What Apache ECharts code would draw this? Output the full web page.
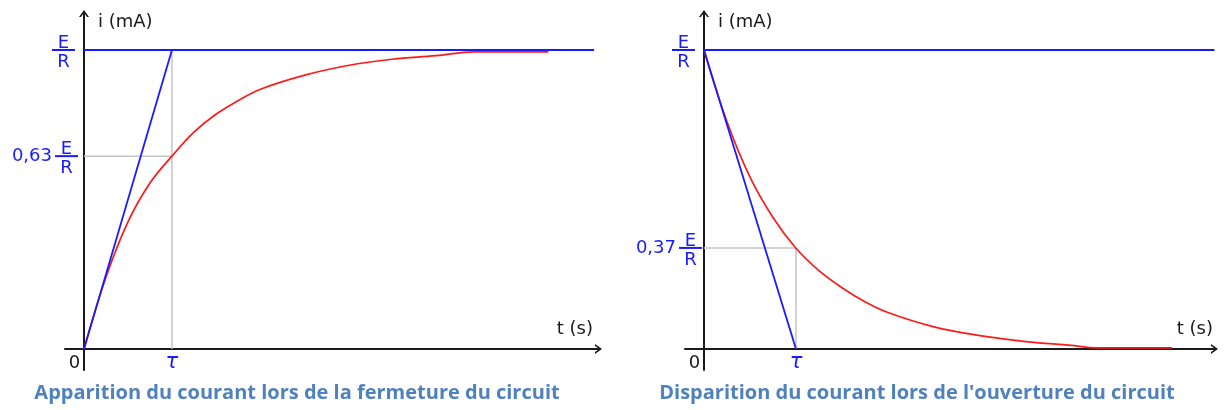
<!DOCTYPE html>
<html>
<head>
<meta charset="utf-8">
<script src="https://cdn.jsdelivr.net/npm/echarts@6/dist/echarts.min.js"></script>
<style>
  html, body { margin: 0; padding: 0; background: #fff; }
  #chart { width: 1224px; height: 410px; }
</style>
</head>
<body>
<div id="chart"></div>
<script>
// time in units of tau, current in units of E/R
const riseT = [0, 0.25, 0.5, 0.75, 1, 1.25, 1.5, 1.75, 2, 2.5, 3, 3.5, 4, 4.44, 5.28]
const riseI = [0, 0.24, 0.425, 0.555, 0.645, 0.725, 0.785, 0.83, 0.868, 0.915, 0.948, 0.969, 0.981, 0.994, 0.994]
const fallT = [0, 0.25, 0.5, 0.75, 1, 1.25, 1.5, 1.75, 2, 2.5, 3, 3.5, 4, 4.27, 5.09]
const fallI = [1, 0.76, 0.575, 0.44, 0.337, 0.262, 0.205, 0.158, 0.122, 0.074, 0.045, 0.025, 0.012, 0.004, 0.004]

// tangents at the origin of each curve
const riseTangentT = [0, 1]
const riseTangentI = [0, 1]
const fallTangentT = [0, 1]
const fallTangentI = [1, 0]

// E/R asymptote
const riseAsymT = [0, 5.8]
const fallAsymT = [0, 5.55]
const asymI = [1, 1]

// level reached at t = tau, and its label
const riseTauLevel = 0.645
const fallTauLevel = 0.338
const riseLevelText = '0,63'
const fallLevelText = '0,37'

const xTicks = [0, 1]
const yLabel = 'i (mA)'
const xLabel = 't (s)'
const captions = [
  'Apparition du courant lors de la fermeture du circuit',
  'Disparition du courant lors de l\'ouverture du circuit',
]

const BLUE = '#1a1aff'
const RED = '#ff1a1a'
const GRAY = '#c4c4c4'
const INK = '#1a1a1a'
const FONT = 'DejaVu Sans'

const zip = (xs, ys) => xs.map((x, i) => [x, ys[i]])

// open chevron for the axis arrows
const chevron = 'path://M0,7 L5,0 L10,7 L8.1,7 L5,2.66 L1.9,7 Z'

const fracRich = {
  e: { color: BLUE, fontFamily: FONT, fontSize: 18, lineHeight: 10 },
  r: { color: BLUE, fontFamily: FONT, fontSize: 18, lineHeight: 20 },
  num: { color: BLUE, fontFamily: FONT, fontSize: 18, lineHeight: 4, padding: [0, 3, 0, 0] },
  bar: { width: 23, height: 2, lineHeight: 4, backgroundColor: BLUE, fontSize: 1 },
  se: { width: 5.8, lineHeight: 1, fontSize: 1 },
  sr: { width: 5.3, lineHeight: 1, fontSize: 1 },
  g3: { width: 3, lineHeight: 1, fontSize: 1 },
  g7: { width: 7, lineHeight: 1, fontSize: 1 },
}

function fraction(num, gap) {
  const g = gap ? '{' + gap + '| }' : ''
  return '{e|E}{se| }' + g + '\n' +
    (num ? '{num|' + num + '}' : '') + '{bar| }' + g + '\n' +
    '{r|R}{sr| }' + g
}

// labels stay on the grid edge, so margins are measured from there
function makeAxes(idx, xMin, xMax, level, levelText, margin, gap, nameGap) {
  const xAxis = {
    gridIndex: idx, type: 'value', min: xMin, max: xMax,
    splitLine: { show: false },
    axisTick: { show: false },
    axisLine: {
      onZero: true,
      symbol: ['none', chevron], symbolSize: [11, 7],
      lineStyle: { color: INK, width: 2 },
    },
    axisLabel: {
      customValues: xTicks, margin: -20,
      formatter: v => v === 0 ? '{z|0}' : '{tau|τ}',
      rich: {
        z: { color: INK, fontFamily: FONT, fontSize: 18, padding: [4, 19, 0, 0] },
        tau: { color: BLUE, fontFamily: FONT, fontSize: 21, fontStyle: 'italic', padding: [2, 0, 0, 0] },
      },
    },
    name: xLabel, nameLocation: 'end', nameGap: nameGap,
    nameTextStyle: {
      color: INK, fontFamily: FONT, fontSize: 18,
      align: 'right', verticalAlign: 'bottom', padding: [0, 0, 11, 0],
    },
  }
  const yAxis = {
    gridIndex: idx, type: 'value', min: -0.0702, max: 1.122,
    splitLine: { show: false },
    axisTick: { show: false },
    axisLine: {
      onZero: true,
      symbol: ['none', chevron], symbolSize: [11, 7],
      lineStyle: { color: INK, width: 2 },
    },
    axisLabel: {
      customValues: [level, 1], margin: margin, padding: [10, 0, 0, 0],
      formatter: v => v === 1 ? fraction('', gap) : fraction(levelText, ''),
      rich: fracRich,
    },
    name: yLabel, nameLocation: 'end', nameGap: 0,
    nameTextStyle: {
      color: INK, fontFamily: FONT, fontSize: 18,
      align: 'left', verticalAlign: 'top', padding: [0, 0, 0, 14],
    },
  }
  return { xAxis, yAxis }
}

const left = makeAxes(0, -0.216, 5.85, riseTauLevel, riseLevelText, -13, 'g3', -5.5)
const right = makeAxes(1, -0.2065, 5.55, fallTauLevel, fallLevelText, -17, 'g7', -1.5)

function line(idx, data, color, width, z, smooth) {
  return {
    type: 'line', xAxisIndex: idx, yAxisIndex: idx,
    data: data, showSymbol: false, symbol: 'none',
    smooth: smooth || false,
    lineStyle: { color: color, width: width }, z: z,
    silent: true,
  }
}

const option = {
  animation: false,
  backgroundColor: '#fff',
  grid: [
    { left: 65, top: 13.5, width: 533.5, height: 356.5, outerBoundsMode: 'none' },
    { left: 685, top: 13.5, width: 529.5, height: 356.5, outerBoundsMode: 'none' },
  ],
  xAxis: [left.xAxis, right.xAxis],
  yAxis: [left.yAxis, right.yAxis],
  title: captions.map((text, i) => ({
    text: text,
    left: i === 0 ? 297 : 917,
    textAlign: 'center',
    top: 383,
    padding: 0,
    textStyle: { color: '#4f81bd', fontFamily: 'Open Sans', fontWeight: 'bold', fontSize: 20 },
  })),
  series: [
    // guides at t = tau
    line(0, [[0, riseTauLevel], [1, riseTauLevel]], GRAY, 1.5, 1),
    line(0, [[1, 0], [1, 1]], GRAY, 1.5, 1),
    line(1, [[0, fallTauLevel], [1, fallTauLevel]], GRAY, 1.5, 1),
    line(1, [[1, 0], [1, fallTauLevel]], GRAY, 1.5, 1),
    // currents
    line(0, zip(riseT, riseI), RED, 1.7, 2, 0.4),
    line(1, zip(fallT, fallI), RED, 1.7, 2, 0.4),
    // asymptotes and tangents
    line(0, zip(riseAsymT, asymI), BLUE, 2, 3),
    line(0, zip(riseTangentT, riseTangentI), BLUE, 1.8, 3),
    line(1, zip(fallAsymT, asymI), BLUE, 2, 3),
    line(1, zip(fallTangentT, fallTangentI), BLUE, 1.8, 3),
  ],
}

const chart = echarts.init(document.getElementById('chart'), null, { renderer: 'canvas' })
chart.setOption(option)
</script>
</body>
</html>
